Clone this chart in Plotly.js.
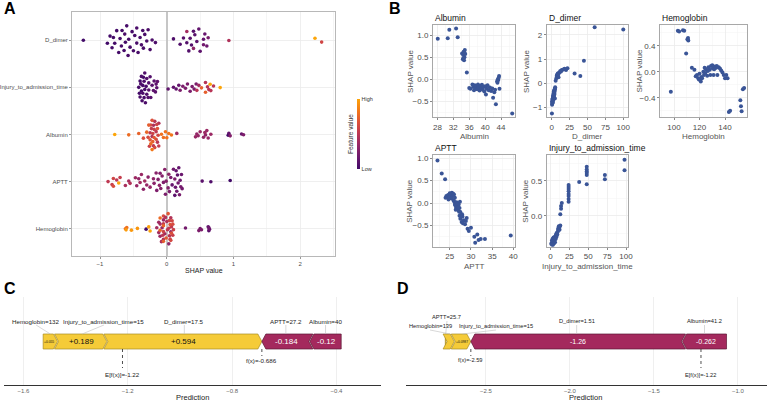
<!DOCTYPE html>
<html>
<head>
<meta charset="utf-8">
<script src="https://cdn.plot.ly/plotly-3.0.1.min.js"></script>
<style>
  html, body { margin: 0; padding: 0; background: #fff; }
  #chart { width: 767px; height: 403px; }
</style>
</head>
<body>
<div id="chart"></div>
<script>
// ---------------- data ----------------
// Per-patient feature values and their SHAP values (same samples feed the
// summary beeswarm and the dependence scatter plots).
const albuminValue = [28.1,30.6,31.0,32.7,33.1, 34.2,34.4,34.5,34.6,34.7,34.8,34.9,35.0,34.5,34.8, 35.4,
  36.0,36.3,36.8,37.0,37.2,37.4,37.6,37.8,38.0,38.2,38.4,38.6,38.8,39.0,39.2,39.4,39.6,39.8,40.0,40.2,40.4,40.6,40.9,41.2,41.5,41.8,42.0,42.3,42.7,42.5,
  43.0,43.1,43.2,43.3,43.5,43.4,43.6, 46.8];
const albuminShap = [0.92,0.93,1.12,1.15,0.95, 0.58,0.45,0.55,0.62,0.43,0.50,0.66,0.57,0.47,0.60, 0.15,
  -0.20,-0.22,-0.12,-0.18,-0.25,-0.14,-0.20,-0.16,-0.23,-0.12,-0.19,-0.26,-0.15,-0.21,-0.13,-0.24,-0.18,-0.28,-0.16,-0.35,-0.22,-0.14,-0.25,-0.19,-0.27,-0.21,-0.42,-0.30,-0.57,-0.24,
  -0.05,-0.08,0.00,-0.02,0.07,0.03,-0.22, -0.78];

const dDimerValue = [0.3, 0.5,0.8,1.0,1.2,0.6,1.5,1.8,1.1,2.0,1.4,2.3,1.7,2.6,2.1,2.9,2.4,3.0,2.7,3.2,3.5,3.1,3.8,3.6,4.0,4.2,4.5,3.9,4.8,1.3,2.2,3.3,2.8,4.4,
  5.5,6.5,7.0,7.5,8.0,8.5,9.0,10.0,11.0,12.0,14.0,16.0,18.0,20.0,22.0,32.0,40.0,9.5,13.0,
  45.0,60.0,100.0];
const dDimerShap = [-1.25, -0.89,-0.85,-0.82,-0.78,-0.75,-0.72,-0.70,-0.67,-0.64,-0.62,-0.60,-0.57,-0.55,-0.52,-0.50,-0.48,-0.45,-0.43,-0.40,-0.38,-0.35,-0.33,-0.30,-0.28,-0.25,-0.22,-0.45,-0.17,-0.80,-0.68,-0.58,-0.36,-0.63,
  0.10,0.20,0.30,0.33,0.37,0.40,0.35,0.42,0.45,0.50,0.55,0.57,0.60,0.55,0.62,0.40,0.30,0.25,0.48,
  0.93,2.32,2.22];

const hemoglobinValue = [97.5, 103,104,107,108,110.5,111,111.2,109.5,
  114,116,117,118,119,120,120.5,121,121.5,122,123,123.5,124,125,126,127,128,128.5,129,130,130.5,131,132,133,134,135,136,137,138,139,140,141,142,126.5,133.5,119.5,124.5,131.5,
  143,144, 152,152.5,153,154,155];
const hemoglobinShap = [-0.31, 0.63,0.62,0.64,0.63,0.50,0.52,0.48,0.28,
  0.06,0.03,-0.07,-0.05,-0.10,-0.03,-0.12,-0.15,-0.08,-0.10,0.00,-0.05,0.06,0.04,-0.06,0.07,0.03,-0.05,0.09,0.10,0.05,-0.05,0.08,0.06,-0.05,0.07,0.05,0.02,-0.01,-0.05,-0.10,-0.05,-0.10,0.01,0.09,-0.12,-0.02,0.04,
  -0.62,-0.60, -0.44,-0.53,-0.61,-0.27,-0.25];

const apttValue = [22.1,23.1,23.9,
  24.0,24.2,24.4,24.6,24.9,25.1,25.3,25.5,25.6,25.8,26.0,26.2,25.0,25.4,24.7,25.9,
  26.0,26.2,26.3,26.5,26.6,26.7,26.8,27.0,27.1,27.2,27.3,27.4,27.5,26.4,26.9,27.0,
  27.3,27.5,27.8,28.0,28.3,28.6,29.0,28.8,28.1,27.9,
  29.2,30.0,30.8,31.0,31.5,31.8,32.3,33.3,39.4,29.5];
const apttShap = [0.95,0.66,0.53,
  0.12,0.16,0.14,0.18,0.13,0.20,0.15,0.23,0.17,0.21,0.19,0.12,0.22,0.10,0.08,0.06,
  0.04,-0.02,-0.05,-0.10,0.02,-0.13,-0.07,-0.16,-0.03,-0.19,-0.11,0.03,-0.20,-0.15,-0.01,-0.09,
  -0.28,-0.35,-0.42,-0.30,-0.38,-0.47,-0.33,-0.40,-0.45,-0.25,
  -0.57,-0.55,-0.75,-0.88,-0.70,-0.82,-0.80,-0.80,-0.72,-0.62];

const injuryValue = [1,2,2,3,3,3,4,4,4,4,5,5,5,6,6,6,7,7,8,8,8,9,10,10,11,11,12,12,13,2,9,
  13,14,14,15, 24,24,24,24,24,24,24,24, 38, 48,48,48,48,48,48, 72,72, 98,98];
const injuryShap = [-0.40,-0.38,-0.35,-0.42,-0.36,-0.33,-0.40,-0.37,-0.34,-0.31,-0.39,-0.36,-0.32,-0.38,-0.34,-0.30,-0.33,-0.28,-0.30,-0.27,-0.25,-0.27,-0.22,-0.19,-0.17,-0.15,-0.20,-0.16,-0.14,-0.41,-0.24,
  0.02,0.10,0.14,0.18, 0.20,0.24,0.28,0.31,0.35,0.38,0.41,0.44, 0.48, 0.45,0.58,0.61,0.63,0.66,0.70, 0.52,0.58, 0.65,0.80];

// Summary rows, bottom to top
const summaryFeatures = ['Hemoglobin', 'APTT', 'Albumin', 'Injury_to_admission_time', 'D_dimer'];

// Individual explanations (force plots)
const forceCFeatures = ['Hemoglobin', 'Injury_to_admission_time', 'D_dimer', 'APTT', 'Albumin'];
const forceCValues   = ['132', '15', '17.5', '27.2', '40'];
const forceCShap     = [0.055, 0.189, 0.594, -0.184, -0.12];
const forceCBase     = -1.22;

const forceDFeatures = ['APTT', 'Hemoglobin', 'Injury_to_admission_time', 'D_dimer', 'Albumin'];
const forceDValues   = ['25.7', '139', '15', '1.51', '41.2'];
const forceDShap     = [0.0046, 0.0487, 0.0987, -1.26, -0.262];
const forceDBase     = -1.22;

// ---------------- helpers ----------------
const W = 767, H = 403;
const FONT = 'Liberation Sans, Arial, Helvetica, sans-serif';
const fx = px => px / W;
const fy = py => 1 - py / H;

const series = {
  Albumin: { v: albuminValue, s: albuminShap },
  D_dimer: { v: dDimerValue, s: dDimerShap },
  Hemoglobin: { v: hemoglobinValue, s: hemoglobinShap },
  APTT: { v: apttValue, s: apttShap },
  Injury_to_admission_time: { v: injuryValue, s: injuryShap }
};

const heat = [
  [0.0, '#420A68'], [0.167, '#6A176E'], [0.333, '#932667'], [0.5, '#BC3754'],
  [0.667, '#DD513A'], [0.833, '#F37819'], [1.0, '#FCA50A']
];

function vdc(n) { let v = 0, d = 1; while (n > 0) { d *= 2; v += (n % 2) / d; n = Math.floor(n / 2); } return v; }

// quasi-random sina-style spread: width follows the local density of SHAP values
function spread(vals, bw, half) {
  const dens = vals.map(v => vals.reduce((s, u) => s + Math.exp(-0.5 * ((v - u) / bw) ** 2), 0));
  const m = Math.max(...dens);
  const idx = vals.map((v, i) => i).sort((a, b) => vals[a] - vals[b]);
  const off = new Array(vals.length);
  idx.forEach((i, r) => { off[i] = (vdc(r + 1) * 2 - 1) * half * dens[i] / m; });
  return off;
}

const traces = [];
const annotations = [];
const ann = (o) => annotations.push(Object.assign({
  showarrow: false, xanchor: 'center', yanchor: 'middle',
  font: { family: FONT, size: 7, color: '#333' }
}, o));

// ---------------- panel A: summary beeswarm ----------------
summaryFeatures.forEach((name, k) => {
  const d = series[name];
  const lo = Math.min(...d.v), hi = Math.max(...d.v);
  const col = d.v.map(v => (v - lo) / (hi - lo));
  const off = spread(d.s, 0.07, 0.35);
  const t = {
    type: 'scatter', mode: 'markers', xaxis: 'x', yaxis: 'y',
    x: d.s, y: off.map(o => k + o),
    marker: { size: 3.6, color: col, colorscale: heat, cmin: 0, cmax: 1, showscale: k === 0, line: { width: 0 } },
    hoverinfo: 'skip'
  };
  if (k === 0) {
    t.marker.colorbar = {
      x: fx(357), xanchor: 'left', y: fy(134), yanchor: 'middle',
      len: 70, lenmode: 'pixels', thickness: 3, thicknessmode: 'pixels',
      outlinewidth: 0, tickvals: [0, 1], ticktext: ['Low', 'High'], ticks: '',
      tickfont: { family: FONT, size: 5.5, color: '#333' }, xpad: 0, ypad: 0
    };
  }
  traces.push(t);
});
ann({ x: fx(204), y: fy(270), xref: 'paper', yref: 'paper', text: 'SHAP value', font: { family: FONT, size: 7, color: '#222' } });
ann({ x: fx(350), y: fy(134), xref: 'paper', yref: 'paper', text: 'Feature value', textangle: -90, font: { family: FONT, size: 6.5, color: '#333' } });

// ---------------- panel B: dependence plots ----------------
const depPanels = [
  { name: 'Albumin', ax: 2, x0: 433, x1: 515, y0: 25, y1: 117, xr: [26.9, 47.5], yr: [-0.86, 1.23], xd: 4, xt0: 28, xm: 2, yd: 0.5, ym: 0.25, yf: '.1f', ytitle: 410 },
  { name: 'D_dimer', ax: 3, x0: 546.7, x1: 628, y0: 25, y1: 117, xr: [-7, 106.6], yr: [-1.40, 2.41], xd: 25, xt0: 0, xm: 12.5, yd: 1, ym: 0.5, yf: 'd', ytitle: 526 },
  { name: 'Hemoglobin', ax: 4, x0: 660, x1: 746.7, y0: 25, y1: 117, xr: [89, 157], yr: [-0.697, 0.72], xd: 20, xt0: 100, xm: 10, yd: 0.4, ym: 0.2, yf: '.1f', ytitle: 638.5 },
  { name: 'APTT', ax: 5, x0: 433, x1: 515, y0: 155, y1: 246.7, xr: [21.04, 40.4], yr: [-0.97, 1.07], xd: 5, xt0: 25, xm: 2.5, yd: 0.5, ym: 0.25, yf: '.1f', ytitle: 410 },
  { name: 'Injury_to_admission_time', ax: 6, x0: 546.7, x1: 628.3, y0: 155, y1: 246.7, xr: [-5, 103], yr: [-0.443, 0.867], xd: 25, xt0: 0, xm: 12.5, yd: 0.5, ym: 0.25, yf: '.1f', ytitle: 526 }
];

const layoutAxes = {};
const depAxisCommon = {
  showline: true, mirror: true, linecolor: '#A8A8A8', linewidth: 1,
  showgrid: true, gridcolor: '#EBEBEB', gridwidth: 0.8, zeroline: false,
  ticks: 'outside', ticklen: 2, tickcolor: '#555', tickwidth: 0.7,
  tickfont: { family: FONT, size: 8, color: '#4D4D4D' }
};
depPanels.forEach(p => {
  const d = series[p.name];
  traces.push({
    type: 'scatter', mode: 'markers', xaxis: 'x' + p.ax, yaxis: 'y' + p.ax,
    x: d.v, y: d.s, marker: { size: 4, color: '#3A5597', line: { width: 0 } }, hoverinfo: 'skip'
  });
  layoutAxes['xaxis' + p.ax] = Object.assign({}, depAxisCommon, {
    domain: [fx(p.x0), fx(p.x1)], range: p.xr, anchor: 'y' + p.ax,
    tick0: p.xt0, dtick: p.xd,
    minor: { tick0: p.xt0, dtick: p.xm, showgrid: true, gridcolor: '#F4F4F4', gridwidth: 0.5, ticks: '' }
  });
  layoutAxes['yaxis' + p.ax] = Object.assign({}, depAxisCommon, {
    domain: [fy(p.y1), fy(p.y0)], range: p.yr, anchor: 'x' + p.ax,
    tick0: 0, dtick: p.yd, tickformat: p.yf,
    minor: { tick0: 0, dtick: p.ym, showgrid: true, gridcolor: '#F4F4F4', gridwidth: 0.5, ticks: '' }
  });
  ann({ x: fx(p.x0), y: fy(p.y0 - 7), xref: 'paper', yref: 'paper', xanchor: 'left', text: p.name, font: { family: FONT, size: 8.5, color: '#111' } });
  ann({ x: fx((p.x0 + p.x1) / 2), y: fy(p.y1 + 19.5), xref: 'paper', yref: 'paper', text: p.name, font: { family: FONT, size: 8, color: '#555' } });
  ann({ x: fx(p.ytitle), y: fy((p.y0 + p.y1) / 2), xref: 'paper', yref: 'paper', text: 'SHAP value', textangle: -90, font: { family: FONT, size: 8, color: '#555' } });
});

// ---------------- panels C and D: force plots ----------------
const fmt3 = v => String(Number(v.toPrecision(3)));
const sgn = v => (v > 0 ? '+' : '') + fmt3(v);

function forcePlot(P) {
  const xr = 'x' + P.ax, yr = 'y' + P.ax;
  const upp = (P.range[1] - P.range[0]) / (P.px1 - P.px0); // data units per pixel
  const tip = 4 * upp, gap = 1 * upp;
  const yb = 36, yt = 51, ym = 43.5;
  const total = P.shap.reduce((s, v) => s + v, 0);
  const fxv = P.base + total;
  const idx = P.names.map((n, i) => i);
  const pos = idx.filter(i => P.shap[i] > 0).sort((a, b) => P.shap[a] - P.shap[b]);
  const neg = idx.filter(i => P.shap[i] < 0).sort((a, b) => Math.abs(P.shap[b]) - Math.abs(P.shap[a]));
  const segs = [];
  let a = fxv - pos.reduce((s, i) => s + P.shap[i], 0);
  pos.forEach((i, k) => {
    const b = a + P.shap[i];
    const first = k === 0;
    const left = first ? a : a - tip + gap;
    const bodyR = Math.max(b - tip, left);
    const xs = first ? [a, bodyR, b, bodyR, a, a] : [left, bodyR, b, bodyR, left, a + gap, left];
    const ys = first ? [yt, yt, ym, yb, yb, yt] : [yt, yt, ym, yb, yb, ym, yt];
    segs.push({ i, a, b, xs, ys, pos: true, cx: (a + b) / 2 - tip / 4 });
    a = b;
  });
  a = fxv;
  neg.forEach((i, k) => {
    const b = a - P.shap[i];
    const last = k === neg.length - 1;
    const right = last ? b : b + tip - gap;
    const bodyL = Math.min(a + tip, right);
    const xs = last ? [a, bodyL, b, b, bodyL, a] : [a, bodyL, right, b - gap, right, bodyL, a];
    const ys = last ? [ym, yt, yt, yb, yb, ym] : [ym, yt, yt, ym, yb, yb, ym];
    segs.push({ i, a, b, xs, ys, pos: false, cx: (a + b) / 2 + tip / 4 });
    a = b;
  });

  segs.forEach(s => {
    traces.push({
      type: 'scatter', mode: 'lines', xaxis: xr, yaxis: yr, x: s.xs, y: s.ys,
      fill: 'toself', fillcolor: s.pos ? '#F5CB38' : '#A4295D',
      line: { color: s.pos ? '#A88C25' : '#5A1733', width: 0.7 }, hoverinfo: 'skip'
    });
    const wpx = Math.abs(P.shap[s.i]) / upp;
    if (wpx > 12) {
      ann({ x: s.cx, y: ym, xref: xr, yref: yr, text: sgn(P.shap[s.i]),
        font: { family: FONT, size: wpx > 30 ? P.valueSize : 3.3, color: s.pos ? '#111' : '#fff' } });
    }
    const name = P.names[s.i];
    const spot = P.spots[name] || { x: (s.a + s.b) / 2, y: 64 };
    ann({ x: spot.x, y: spot.y, xref: xr, yref: yr, text: name + '=' + P.values[s.i],
      font: { family: FONT, size: P.labelSize, color: '#222' } });
    traces.push({
      type: 'scatter', mode: 'lines', xaxis: xr, yaxis: yr,
      x: [spot.x, (s.a + s.b) / 2], y: [spot.y - 4, yt],
      line: { color: '#BDBDBD', width: 0.6 }, hoverinfo: 'skip'
    });
  });

  // expected value and prediction markers
  traces.push({ type: 'scatter', mode: 'lines', xaxis: xr, yaxis: yr, x: [P.base, P.base], y: [yb, 17],
    line: { color: '#222', width: 0.8, dash: 'dot' }, hoverinfo: 'skip' });
  traces.push({ type: 'scatter', mode: 'lines', xaxis: xr, yaxis: yr, x: [fxv, fxv], y: [yb, 29],
    line: { color: '#222', width: 0.8, dash: 'dot' }, hoverinfo: 'skip' });
  ann({ x: P.base, y: 10.5, xref: xr, yref: yr, text: 'E[f(x)]=' + fmt3(P.base), font: { family: FONT, size: P.labelSize, color: '#222' } });
  ann({ x: fxv, y: 25, xref: xr, yref: yr, text: 'f(x)=' + fmt3(fxv), font: { family: FONT, size: P.labelSize, color: '#222' } });

  layoutAxes['xaxis' + P.ax] = {
    domain: [fx(P.px0), fx(P.px1)], range: P.range, anchor: 'y' + P.ax,
    tick0: 0, dtick: P.dtick, tickformat: '.1f',
    showgrid: true, gridcolor: '#EBEBEB', gridwidth: 0.8, zeroline: false,
    showline: true, linecolor: '#333', linewidth: 1, ticks: '',
    tickfont: { family: FONT, size: 6, color: '#666' }
  };
  layoutAxes['yaxis' + P.ax] = {
    domain: [fy(385), fy(297)], range: [0, 88], anchor: 'x' + P.ax, visible: false, fixedrange: true
  };
  ann({ x: fx(P.titleX), y: fy(397.5), xref: 'paper', yref: 'paper', text: 'Prediction',
    font: { family: FONT, size: 7.5, color: '#222' } });
}

forcePlot({
  ax: 7, names: forceCFeatures, values: forceCValues, shap: forceCShap, base: forceCBase,
  px0: 4, px1: 381, range: [-1.674, -0.2295], dtick: 0.4, valueSize: 8, labelSize: 6.2, titleX: 192,
  spots: { 'Hemoglobin': { x: -1.551, y: 64 }, 'Injury_to_admission_time': { x: -1.291, y: 64 } }
});
forcePlot({
  ax: 8, names: forceDFeatures, values: forceDValues, shap: forceDShap, base: forceDBase,
  px0: 406, px1: 767, range: [-2.976, -0.827], dtick: 0.5, valueSize: 7, labelSize: 5.7, titleX: 585,
  spots: { 'Hemoglobin': { x: -2.833, y: 59 }, 'APTT': { x: -2.732, y: 68 }, 'Injury_to_admission_time': { x: -2.44, y: 59 } }
});

// panel letters
[['A', 2, 9], ['B', 387, 9], ['C', 2, 288], ['D', 395, 288]].forEach(([t, x, y]) => {
  ann({ x: fx(x), y: fy(y), xref: 'paper', yref: 'paper', xanchor: 'left', text: '<b>' + t + '</b>',
    font: { family: FONT, size: 16, color: '#000' } });
});

// ---------------- layout ----------------
const axisFrame = { showline: true, mirror: true, linecolor: '#B8B8B8', linewidth: 1 };
const layout = Object.assign({
  width: W, height: H,
  margin: { l: 0, r: 0, t: 0, b: 0 },
  paper_bgcolor: '#fff', plot_bgcolor: '#fff',
  showlegend: false,
  font: { family: FONT },
  xaxis: Object.assign({}, axisFrame, {
    domain: [fx(72), fx(335)], range: [-1.42, 2.52], anchor: 'y',
    tick0: 0, dtick: 1, tickformat: 'd',
    showgrid: true, gridcolor: '#EBEBEB', gridwidth: 0.8,
    minor: { dtick: 0.5, tick0: 0, showgrid: true, gridcolor: '#EFEFEF', gridwidth: 0.6, ticks: '' },
    zeroline: true, zerolinecolor: '#C6C6C6', zerolinewidth: 2,
    ticks: 'outside', ticklen: 2, tickcolor: '#999',
    tickfont: { family: FONT, size: 6, color: '#4D4D4D' }
  }),
  yaxis: Object.assign({}, axisFrame, {
    domain: [fy(256), fy(12)], range: [-0.58, 4.6], anchor: 'x',
    tickvals: summaryFeatures.map((n, i) => i), ticktext: summaryFeatures,
    showgrid: true, gridcolor: '#EBEBEB', gridwidth: 0.8, zeroline: false,
    ticks: 'outside', ticklen: 2, tickcolor: '#999',
    tickfont: { family: FONT, size: 6, color: '#4D4D4D' }
  }),
  annotations: annotations
}, layoutAxes);

Plotly.newPlot('chart', traces, layout, { staticPlot: true, displayModeBar: false });
</script>
</body>
</html>
